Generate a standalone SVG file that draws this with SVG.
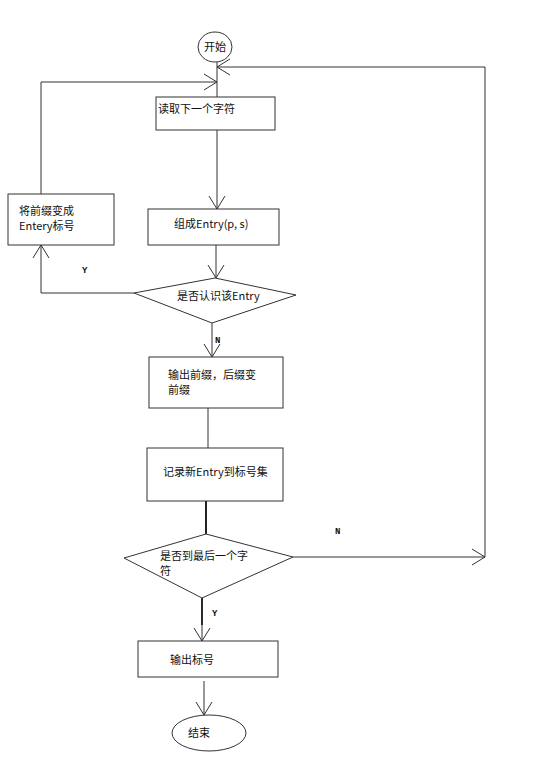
<svg xmlns="http://www.w3.org/2000/svg" width="552" height="768" viewBox="0 0 552 768">
<style>
.box{fill:#fff;stroke:#333;stroke-width:1}
.ln{fill:none;stroke:#333;stroke-width:1}
.thick{fill:none;stroke:#222;stroke-width:2}
.t{font-family:"Noto Sans CJK SC","Liberation Sans",sans-serif;font-size:11px;fill:#111}
.lb{font-family:"Liberation Mono",monospace;font-size:9px;font-weight:bold;fill:#111}
</style>
<defs>
<marker id="arr" markerUnits="userSpaceOnUse" markerWidth="16" markerHeight="20" refX="14" refY="9" orient="auto">
<path d="M1,1 L14,9 L1,17" fill="none" stroke="#333" stroke-width="1"/>
</marker>
</defs>
<rect width="552" height="768" fill="#fff"/>
<g id="connectors">
<line class="ln" x1="217" y1="62" x2="217" y2="97"/>
<polyline class="ln" points="485,557 485,67 217,67" marker-end="url(#arr)"/>
<polyline class="ln" points="41,194 41,82 217,82" marker-end="url(#arr)"/>
<line class="ln" x1="217" y1="130" x2="217" y2="209" marker-end="url(#arr)"/>
<line class="ln" x1="216" y1="245" x2="216" y2="278" marker-end="url(#arr)"/>
<polyline class="ln" points="134,293 41,293 41,245" marker-end="url(#arr)"/>
<line class="ln" x1="212" y1="323" x2="212" y2="357" marker-end="url(#arr)"/>
<line class="ln" x1="208" y1="408" x2="208" y2="448"/>
<line class="thick" x1="206" y1="501" x2="206" y2="534"/>
<line class="ln" x1="293" y1="557" x2="485" y2="557" marker-end="url(#arr)"/>
<line class="thick" x1="202" y1="598" x2="202" y2="625"/>
<line class="ln" x1="202" y1="598" x2="202" y2="641" marker-end="url(#arr)"/>
<line class="ln" x1="204" y1="681" x2="204" y2="715" marker-end="url(#arr)"/>
<text class="lb" x="82" y="273">Y</text>
<text class="lb" x="215" y="343">N</text>
<text class="lb" x="335" y="534">N</text>
<text class="lb" x="212" y="616">Y</text>
</g>
<g id="start">
<ellipse class="box" cx="215" cy="47" rx="17" ry="15"/>
<text class="t" x="215" y="51" text-anchor="middle">开始</text>
</g>
<g id="read">
<rect class="box" x="156" y="97" width="119" height="33"/>
<text class="t" x="158" y="113">读取下一个字符</text>
</g>
<g id="prefix">
<rect class="box" x="8" y="194" width="106" height="51"/>
<text class="t" x="19" y="215">将前缀变成</text>
<text class="t" x="19" y="230">Entery标号</text>
</g>
<g id="entry">
<rect class="box" x="148" y="209" width="131" height="36"/>
<text class="t" x="174" y="228">组成Entry(p, s)</text>
</g>
<g id="known">
<polygon class="box" points="215,278 296,295 212,323 134,293"/>
<text class="t" x="177" y="300">是否认识该Entry</text>
</g>
<g id="output">
<rect class="box" x="149" y="357" width="134" height="51"/>
<text class="t" x="168" y="379">输出前缀，后缀变</text>
<text class="t" x="168" y="394">前缀</text>
</g>
<g id="record">
<rect class="box" x="147" y="448" width="136" height="53"/>
<text class="t" x="163" y="476">记录新Entry到标号集</text>
</g>
<g id="last">
<polygon class="box" points="206,534 293,557 202,598 124,558"/>
<text class="t" x="160" y="560">是否到最后一个字</text>
<text class="t" x="160" y="575">符</text>
</g>
<g id="outcode">
<rect class="box" x="138" y="641" width="140" height="36"/>
<text class="t" x="170" y="664">输出标号</text>
</g>
<g id="end">
<ellipse class="box" cx="209" cy="733" rx="37" ry="18"/>
<text class="t" x="188" y="737">结束</text>
</g>
</svg>
